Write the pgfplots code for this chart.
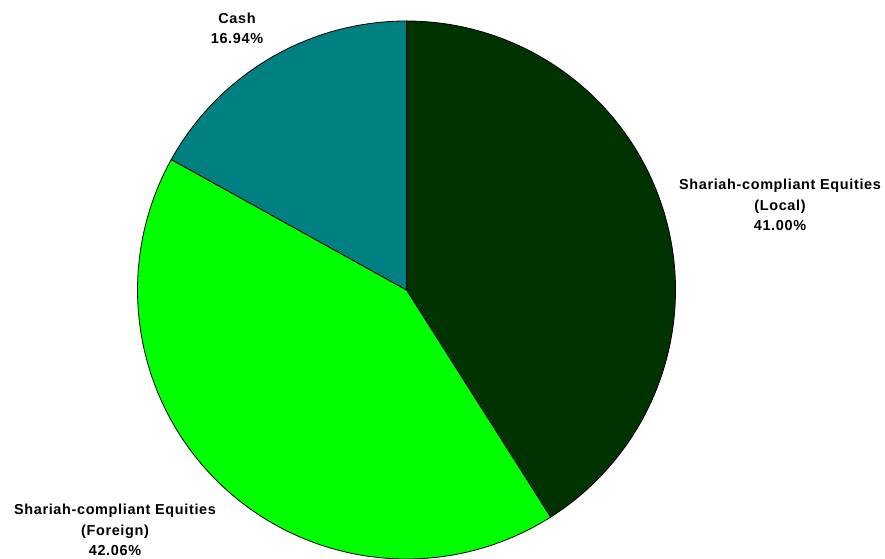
\documentclass[border=0pt]{standalone}
\usepackage{fontspec}
\setmainfont{Liberation Sans}
\newfontfamily\lblfont{Liberation Sans}[LetterSpace=4.5]
\usepackage{pgfplots}
\pgfplotsset{compat=1.18}
\definecolor{cLocal}{HTML}{003300}
\definecolor{cForeign}{HTML}{00FF00}
\definecolor{cCash}{HTML}{008080}
% shares (percent)
\def\vLocal{41.00}
\def\vForeign{42.06}
\def\vCash{16.94}
\begin{document}
\begin{tikzpicture}
\pgfmathsetmacro{\aA}{90}
\pgfmathsetmacro{\aB}{\aA-3.6*\vLocal}
\pgfmathsetmacro{\aC}{\aB-3.6*\vForeign}
\pgfmathsetmacro{\aD}{\aC-3.6*\vCash}
\begin{axis}[
  width=885bp, height=559bp, scale only axis,
  xmin=0, xmax=885, ymin=0, ymax=559,
  hide axis, clip=false,
]
\addplot[fill=cLocal, draw=black, line width=0.8pt, domain=\aA:\aB, samples=150, variable=\t]
  ({406.5+269*cos(\t)}, {269+269*sin(\t)}) -- (axis cs:406.5,269) -- cycle;
\addplot[fill=cForeign, draw=black, line width=0.8pt, domain=\aB:\aC, samples=150, variable=\t]
  ({406.5+269*cos(\t)}, {269+269*sin(\t)}) -- (axis cs:406.5,269) -- cycle;
\addplot[fill=cCash, draw=black, line width=0.8pt, domain=\aC:\aD, samples=80, variable=\t]
  ({406.5+269*cos(\t)}, {269+269*sin(\t)}) -- (axis cs:406.5,269) -- cycle;
\tikzset{lbl/.style={align=center, font=\lblfont\fontsize{14.5}{20.5}\selectfont\bfseries}}
\node[lbl] at (axis cs:237,530.5) {Cash\\16.94\%};
\node[lbl] at (axis cs:780,354) {Shariah-compliant Equities\\(Local)\\41.00\%};
\node[lbl] at (axis cs:115,29) {Shariah-compliant Equities\\(Foreign)\\42.06\%};
\end{axis}
\pgfresetboundingbox
\path[use as bounding box] (0,0) rectangle (885bp,559bp);
\end{tikzpicture}
\end{document}
